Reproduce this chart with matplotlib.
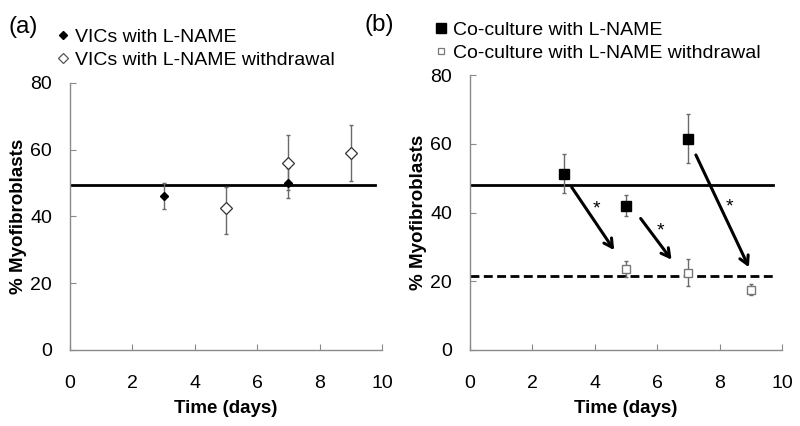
import matplotlib
matplotlib.use("Agg")
import matplotlib.pyplot as plt
from matplotlib.lines import Line2D

plt.rcParams['font.family'] = ['Liberation Sans', 'DejaVu Sans']

# ---- data: panel (a) ----
a_days_lname = [3, 7]
a_val_lname = [46.1, 50.0]
a_err_lname = [4.0, 4.4]
a_days_wd = [5, 7, 9]
a_val_wd = [42.6, 56.1, 58.9]
a_err_wd_low = [7.8, 8.3, 8.4]
a_err_wd_high = [6.3, 8.3, 8.4]
a_ref_level = 49.3
a_ref_end = 9.77

# ---- data: panel (b) ----
b_days_lname = [3, 5, 7]
b_val_lname = [51.3, 42.0, 61.5]
b_err_lname = [5.7, 3.1, 7.1]
b_days_wd = [5, 7, 9]
b_val_wd = [23.5, 22.5, 17.5]
b_err_wd = [2.3, 4.0, 1.6]
b_ref_solid = 48.0
b_ref_dashed = 21.5
b_ref_end = 9.7
arrow_start = [(3.26, 47.4), (5.47, 38.3), (7.24, 56.8)]
arrow_end = [(4.62, 29.1), (6.46, 26.3), (8.94, 24.1)]
star_pos = [(4.06, 41.2), (6.09, 34.7), (8.31, 41.7)]

xticks = [0, 2, 4, 6, 8, 10]
yticks = [0, 20, 40, 60, 80]

W, H = 800, 426
fig = plt.figure(figsize=(8, 4.26), dpi=100)
axA = fig.add_axes([70 / W, (H - 350) / H, 312 / W, (350 - 82.7) / H])
axB = fig.add_axes([470 / W, (H - 350) / H, 312 / W, (350 - 75.3) / H])

spine_col = '#8a8a8a'
err_col = '#6a6a6a'
for ax in (axA, axB):
    ax.set_xlim(0, 10)
    ax.set_ylim(0, 80)
    ax.set_xticks(xticks)
    ax.set_yticks(yticks)
    for s in ('top', 'right'):
        ax.spines[s].set_visible(False)
    for s in ('left', 'bottom'):
        ax.spines[s].set_color(spine_col)
        ax.spines[s].set_linewidth(1.0)
    ax.tick_params(direction='in', length=4, width=0.8, color=spine_col,
                   labelsize=14)
    ax.tick_params(axis='x', pad=18)
    ax.tick_params(axis='y', pad=13)
    ax.set_xlabel('Time (days)', fontsize=13.5, fontweight='bold', labelpad=6)
    ax.set_ylabel('% Myofibroblasts', fontsize=13.5, fontweight='bold', labelpad=2)

# ---- panel (a) ----
axA.plot([0, a_ref_end], [a_ref_level, a_ref_level], color='black', lw=2.0, zorder=2)
axA.errorbar(a_days_lname, a_val_lname, yerr=a_err_lname, fmt='none',
             ecolor=err_col, elinewidth=1.0, capsize=1.5, zorder=3)
axA.errorbar(a_days_wd, a_val_wd, yerr=[a_err_wd_low, a_err_wd_high], fmt='none',
             ecolor=err_col, elinewidth=1.0, capsize=1.5, zorder=3)
axA.plot(a_days_wd, a_val_wd, linestyle='none', marker='D', ms=6,
         mfc='white', mec='#333333', mew=0.9, zorder=4)
axA.plot(a_days_lname, a_val_lname, linestyle='none', marker='D', ms=4,
         mfc='black', mec='black', zorder=5)

hA = [Line2D([], [], linestyle='none', marker='D', ms=4, mfc='black', mec='black'),
      Line2D([], [], linestyle='none', marker='D', ms=5, mfc='white', mec='#555555', mew=0.9)]
fig.legend(hA, ['VICs with L-NAME', 'VICs with L-NAME withdrawal'],
           loc='upper left', bbox_to_anchor=(58 / W, 1 - 28 / H),
           frameon=False, fontsize=14, handlelength=0.5, handletextpad=0.35,
           labelspacing=0.28, borderpad=0, borderaxespad=0)

# ---- panel (b) ----
axB.plot([0, b_ref_end], [b_ref_solid, b_ref_solid], color='black', lw=2.0, zorder=2)
axB.plot([0, b_ref_end], [b_ref_dashed, b_ref_dashed], color='black', lw=2.0,
         dashes=(3.2, 1.6), zorder=2)
axB.errorbar(b_days_lname, b_val_lname, yerr=b_err_lname, fmt='none',
             ecolor=err_col, elinewidth=1.0, capsize=1.5, zorder=3)
axB.errorbar(b_days_wd, b_val_wd, yerr=b_err_wd, fmt='none',
             ecolor=err_col, elinewidth=1.0, capsize=1.5, zorder=3)
axB.plot(b_days_lname, b_val_lname, linestyle='none', marker='s', ms=7.5,
         mfc='black', mec='black', zorder=5)
axB.plot(b_days_wd, b_val_wd, linestyle='none', marker='s', ms=5.5,
         mfc='white', mec='#777777', mew=1.0, zorder=4)
for (x0, y0), (x1, y1) in zip(arrow_start, arrow_end):
    axB.annotate('', xy=(x1, y1), xytext=(x0, y0),
                 arrowprops=dict(arrowstyle='->,head_length=0.6,head_width=0.33',
                                 lw=2.2, color='black', shrinkA=0, shrinkB=0),
                 zorder=6)
for (sx, sy) in star_pos:
    axB.text(sx, sy, '*', fontsize=14, ha='center', va='center')

hB = [Line2D([], [], linestyle='none', marker='s', ms=7, mfc='black', mec='black'),
      Line2D([], [], linestyle='none', marker='s', ms=5, mfc='white', mec='#777777', mew=0.9)]
fig.legend(hB, ['Co-culture with L-NAME', 'Co-culture with L-NAME withdrawal'],
           loc='upper left', bbox_to_anchor=(436 / W, 1 - 21 / H),
           frameon=False, fontsize=14, handlelength=0.5, handletextpad=0.35,
           labelspacing=0.3, borderpad=0, borderaxespad=0)

# panel labels
fig.text(8 / W, 1 - 27 / H, '(a)', fontsize=17.5, va='center', ha='left')
fig.text(364 / W, 1 - 25 / H, '(b)', fontsize=17.5, va='center', ha='left')

fig.savefig('out.png', dpi=100)
